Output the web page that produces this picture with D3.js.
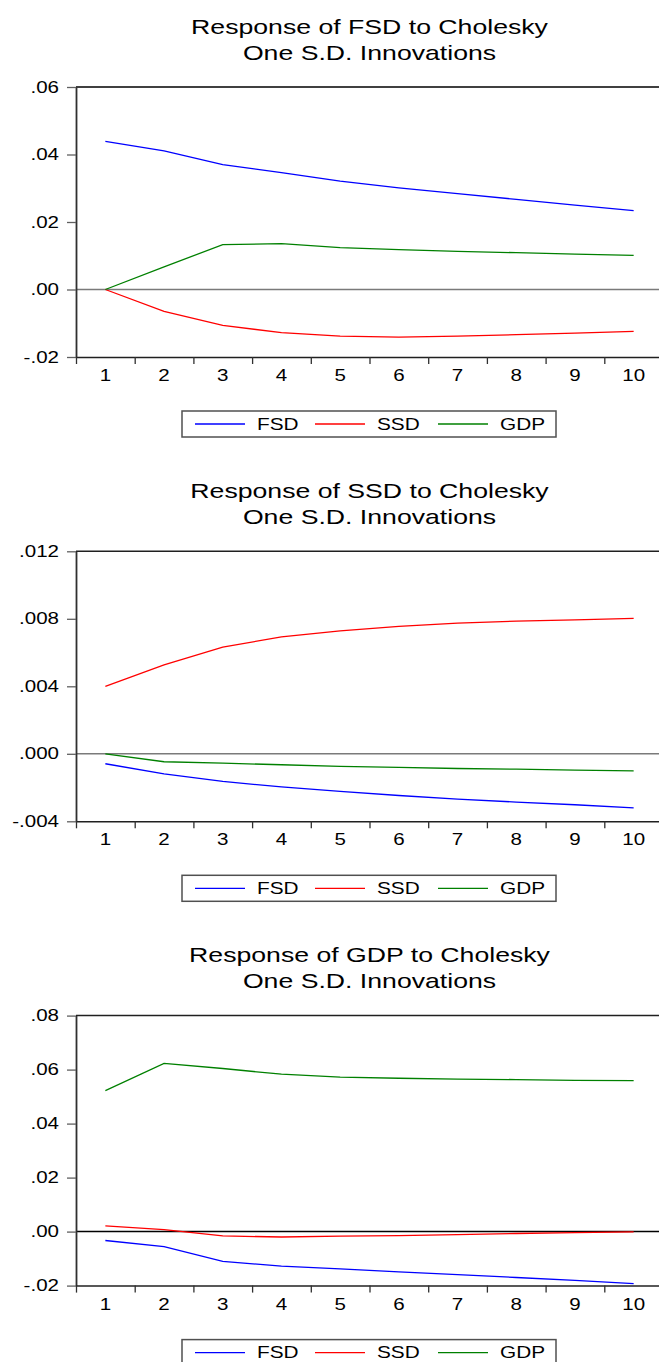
<!DOCTYPE html>
<html>
<head>
<meta charset="utf-8">
<script src="https://cdn.jsdelivr.net/npm/d3@7"></script>
<style>
  html, body { margin: 0; padding: 0; background: #fff; }
  svg { display: block; }
  text { font-family: "Liberation Sans", Arial, sans-serif; fill: #000; }
</style>
</head>
<body>
<svg id="chart" width="659" height="1362"></svg>
<script>
// ---------- data ----------
const periods = [1, 2, 3, 4, 5, 6, 7, 8, 9, 10];
const seriesNames = ["FSD", "SSD", "GDP"];
const seriesColors = ["#0000ff", "#ff0000", "#008000"];

const titles = ["FSD", "SSD", "GDP"];

// Response of FSD
const fsdToFsd = [0.0439, 0.0411, 0.0370, 0.0346, 0.0321, 0.0301, 0.0284, 0.0267, 0.0250, 0.0234];
const fsdToSsd = [0, -0.0065, -0.0106, -0.0128, -0.0138, -0.0141, -0.0138, -0.0134, -0.0129, -0.0124];
const fsdToGdp = [0, 0.0067, 0.0133, 0.0136, 0.0124, 0.0118, 0.0113, 0.0109, 0.0105, 0.0101];

// Response of SSD
const ssdToFsd = [-0.00059, -0.00119, -0.00164, -0.00196, -0.00223, -0.00247, -0.00269, -0.00286, -0.00302, -0.0032];
const ssdToSsd = [0.0040, 0.00527, 0.00632, 0.00693, 0.00729, 0.00755, 0.00774, 0.00786, 0.00794, 0.00802];
const ssdToGdp = [0, -0.00047, -0.00055, -0.00065, -0.00075, -0.00081, -0.00087, -0.00091, -0.00097, -0.00101];

// Response of GDP
const gdpToFsd = [-0.0033, -0.0056, -0.0110, -0.0128, -0.0138, -0.0149, -0.0159, -0.0170, -0.0181, -0.0193];
const gdpToSsd = [0.0021, 0.0007, -0.0016, -0.0020, -0.0017, -0.0015, -0.0011, -0.0007, -0.0004, -0.0001];
const gdpToGdp = [0.0522, 0.0623, 0.0604, 0.0583, 0.0572, 0.0568, 0.0565, 0.0563, 0.0560, 0.0559];

const yTicks1 = [-0.02, 0, 0.02, 0.04, 0.06];
const yLabels1 = ["-.02", ".00", ".02", ".04", ".06"];
const yTicks2 = [-0.004, 0, 0.004, 0.008, 0.012];
const yLabels2 = ["-.004", ".000", ".004", ".008", ".012"];
const yTicks3 = [-0.02, 0, 0.02, 0.04, 0.06, 0.08];
const yLabels3 = ["-.02", ".00", ".02", ".04", ".06", ".08"];

const panels = [
  { title: titles[0], series: [fsdToFsd, fsdToSsd, fsdToGdp], ticks: yTicks1, labels: yLabels1, zeroColor: "#7a7a7a", frameColor: "#404040" },
  { title: titles[1], series: [ssdToFsd, ssdToSsd, ssdToGdp], ticks: yTicks2, labels: yLabels2, zeroColor: "#7a7a7a", frameColor: "#202020" },
  { title: titles[2], series: [gdpToFsd, gdpToSsd, gdpToGdp], ticks: yTicks3, labels: yLabels3, zeroColor: "#000000", frameColor: "#202020" }
];

// ---------- layout ----------
const SX = 1.3;              // horizontal stretch of the text glyphs
const panelStep = 464.3;
const plotLeft = 76, plotRight = 663, plotTopRel = 87, plotBottomRel = 357;

const svg = d3.select("#chart");
svg.append("rect").attr("width", 659).attr("height", 1362).attr("fill", "#fff");

function stretchedText(g, x, y, str, size, anchor) {
  return g.append("text")
    .attr("transform", `translate(${x},${y}) scale(${SX},1)`)
    .attr("text-anchor", anchor)
    .style("font-size", size + "px")
    .text(str);
}

panels.forEach((p, i) => {
  const off = i * panelStep;
  const g = svg.append("g").attr("transform", `translate(0,${off})`);

  const x = d3.scaleLinear().domain([0.5, 10.5]).range([plotLeft, plotRight]);
  const y = d3.scaleLinear().domain([p.ticks[0], p.ticks[p.ticks.length - 1]])
    .range([plotBottomRel, plotTopRel]);

  // title
  const cx = (plotLeft + plotRight) / 2;
  stretchedText(g, cx, 33.5, `Response of ${p.title} to Cholesky`, 20.5, "middle");
  stretchedText(g, cx, 59.5, "One S.D. Innovations", 20.5, "middle");

  // top frame line
  g.append("line")
    .attr("x1", plotLeft).attr("x2", plotRight)
    .attr("y1", y(p.ticks[p.ticks.length - 1])).attr("y2", y(p.ticks[p.ticks.length - 1]))
    .attr("stroke", p.frameColor).attr("stroke-width", i === 0 ? 2 : 1.5);

  // zero line
  g.append("line")
    .attr("x1", plotLeft).attr("x2", plotRight)
    .attr("y1", y(0)).attr("y2", y(0))
    .attr("stroke", p.zeroColor).attr("stroke-width", 1.5);

  // y axis
  const yAxis = d3.axisLeft(y).tickValues(p.ticks)
    .tickFormat((d, k) => p.labels[k]).tickSize(9).tickSizeOuter(0);
  const ya = g.append("g").attr("transform", `translate(${plotLeft},0)`).call(yAxis);
  ya.select(".domain").attr("stroke", "#303030").attr("stroke-width", 1.8);
  ya.selectAll(".tick line").attr("stroke", "#606060").attr("stroke-width", 1.3);
  ya.selectAll(".tick text")
    .attr("x", null).attr("dy", null)
    .attr("transform", `translate(-17,5) scale(${SX},1)`)
    .attr("text-anchor", "end")
    .style("font-size", "15.8px")
    .style("font-family", "'Liberation Sans', Arial, sans-serif")
    .attr("fill", "#000");

  // x axis (ticks at period boundaries)
  const bounds = d3.range(0, 11).map(k => k + 0.5);
  const xAxis = d3.axisBottom(x).tickValues(bounds).tickFormat("").tickSize(7).tickSizeOuter(0);
  const xa = g.append("g").attr("transform", `translate(0,${plotBottomRel})`).call(xAxis);
  xa.select(".domain").attr("stroke", "#202020").attr("stroke-width", 1.5);
  xa.selectAll(".tick line").attr("stroke", "#303030").attr("stroke-width", 1.3);

  // x labels
  periods.forEach(pr => {
    stretchedText(g, x(pr), 381, String(pr), 15.8, "middle");
  });

  // lines
  const line = d3.line().x((d, k) => x(periods[k])).y(d => y(d));
  p.series.forEach((s, k) => {
    g.append("path").datum(s)
      .attr("d", line)
      .attr("fill", "none")
      .attr("stroke", seriesColors[k])
      .attr("stroke-width", 1.3);
  });

  // legend
  const lg = g.append("g");
  lg.append("rect").attr("x", 182).attr("y", 411).attr("width", 374).attr("height", 26)
    .attr("fill", "#fff").attr("stroke", "#505050").attr("stroke-width", 1.5);
  const legendLineX = [195, 315, 438];
  const legendTextX = [257, 377, 500];
  seriesNames.forEach((nm, k) => {
    lg.append("line")
      .attr("x1", legendLineX[k]).attr("x2", legendLineX[k] + 50)
      .attr("y1", 424).attr("y2", 424)
      .attr("stroke", seriesColors[k]).attr("stroke-width", 1.3);
    stretchedText(lg, legendTextX[k], 429.5, nm, 16, "start");
  });
});
</script>
</body>
</html>
